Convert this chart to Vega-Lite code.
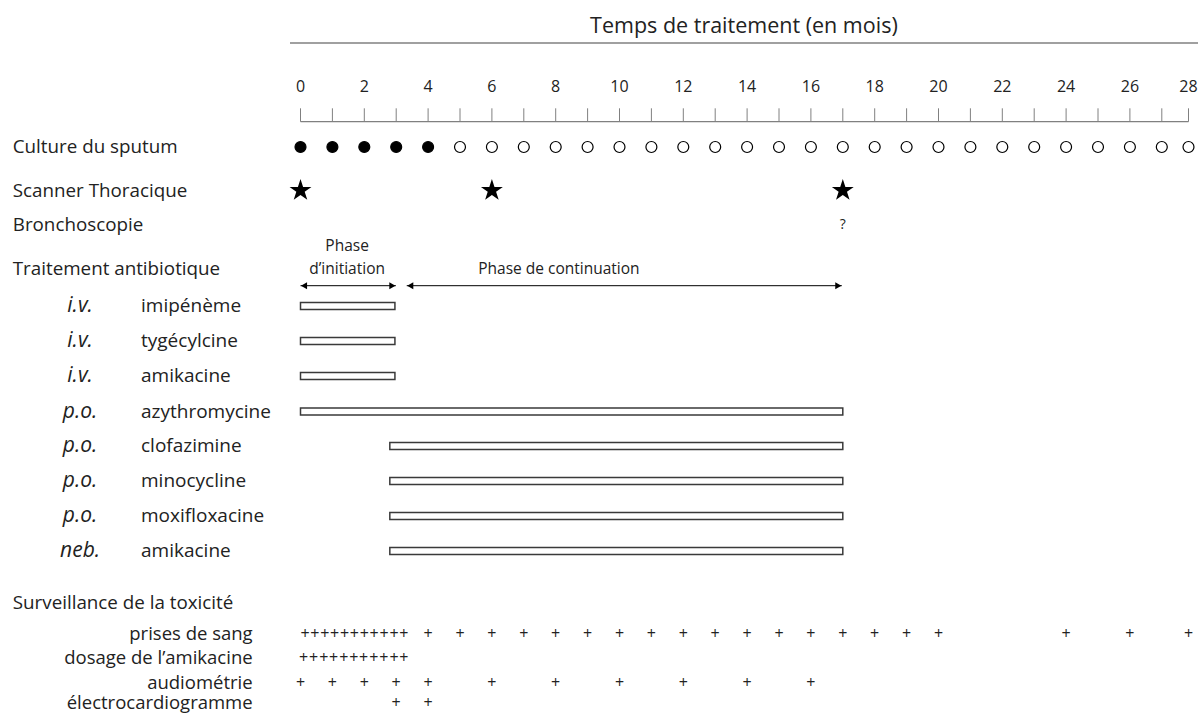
{
  "$schema": "https://vega.github.io/schema/vega-lite/v6.json",
  "width": 1198,
  "height": 719,
  "autosize": {"type": "none"},
  "padding": 0,
  "background": "#ffffff",
  "config": {"view": {"stroke": null}, "font": "Open Sans"},
  "datasets": {
    "titre": [{"texte": "Temps de traitement (en mois)"}],
    "graduations": [
      {"mois": 0}, {"mois": 1}, {"mois": 2}, {"mois": 3}, {"mois": 4}, {"mois": 5}, {"mois": 6}, {"mois": 7},
      {"mois": 8}, {"mois": 9}, {"mois": 10}, {"mois": 11}, {"mois": 12}, {"mois": 13}, {"mois": 14},
      {"mois": 15}, {"mois": 16}, {"mois": 17}, {"mois": 18}, {"mois": 19}, {"mois": 20}, {"mois": 21},
      {"mois": 22}, {"mois": 23}, {"mois": 24}, {"mois": 25}, {"mois": 26}, {"mois": 27}, {"mois": 28}
    ],
    "culture": [
      {"mois": 0, "resultat": "positive"}, {"mois": 1, "resultat": "positive"}, {"mois": 2, "resultat": "positive"},
      {"mois": 3, "resultat": "positive"}, {"mois": 4, "resultat": "positive"}, {"mois": 5, "resultat": "négative"},
      {"mois": 6, "resultat": "négative"}, {"mois": 7, "resultat": "négative"}, {"mois": 8, "resultat": "négative"},
      {"mois": 9, "resultat": "négative"}, {"mois": 10, "resultat": "négative"}, {"mois": 11, "resultat": "négative"},
      {"mois": 12, "resultat": "négative"}, {"mois": 13, "resultat": "négative"}, {"mois": 14, "resultat": "négative"},
      {"mois": 15, "resultat": "négative"}, {"mois": 16, "resultat": "négative"}, {"mois": 17, "resultat": "négative"},
      {"mois": 18, "resultat": "négative"}, {"mois": 19, "resultat": "négative"}, {"mois": 20, "resultat": "négative"},
      {"mois": 21, "resultat": "négative"}, {"mois": 22, "resultat": "négative"}, {"mois": 23, "resultat": "négative"},
      {"mois": 24, "resultat": "négative"}, {"mois": 25, "resultat": "négative"}, {"mois": 26, "resultat": "négative"},
      {"mois": 27, "resultat": "négative"}, {"mois": 28, "resultat": "négative"}
    ],
    "scanner": [{"mois": 0}, {"mois": 6}, {"mois": 17}],
    "bronchoscopie": [{"mois": 17, "note": "?"}],
    "phases_texte": [
      {"texte": "Phase", "mois": 1.46, "ligne": 8},
      {"texte": "d’initiation", "mois": 1.46, "ligne": 9},
      {"texte": "Phase de continuation", "mois": 8.1, "ligne": 9}
    ],
    "phases": [
      {"phase": "initiation", "debut": 0, "fin": 2.99},
      {"phase": "continuation", "debut": 3.33, "fin": 16.97}
    ],
    "traitements": [
      {"voie": "i.v.", "medicament": "imipénème", "debut": 0, "fin": 2.96, "ligne": 11},
      {"voie": "i.v.", "medicament": "tygécylcine", "debut": 0, "fin": 2.96, "ligne": 12},
      {"voie": "i.v.", "medicament": "amikacine", "debut": 0, "fin": 2.96, "ligne": 13},
      {"voie": "p.o.", "medicament": "azythromycine", "debut": 0, "fin": 17, "ligne": 14},
      {"voie": "p.o.", "medicament": "clofazimine", "debut": 2.8, "fin": 17, "ligne": 15},
      {"voie": "p.o.", "medicament": "minocycline", "debut": 2.8, "fin": 17, "ligne": 16},
      {"voie": "p.o.", "medicament": "moxifloxacine", "debut": 2.8, "fin": 17, "ligne": 17},
      {"voie": "neb.", "medicament": "amikacine", "debut": 2.8, "fin": 17, "ligne": 18}
    ],
    "rubriques": [
      {"libelle": "Culture du sputum", "ligne": 5},
      {"libelle": "Scanner Thoracique", "ligne": 6},
      {"libelle": "Bronchoscopie", "ligne": 7},
      {"libelle": "Traitement antibiotique", "ligne": 9},
      {"libelle": "Surveillance de la toxicité", "ligne": 19}
    ],
    "examens": [
      {"examen": "prises de sang", "ligne": 20},
      {"examen": "dosage de l’amikacine", "ligne": 21},
      {"examen": "audiométrie", "ligne": 22},
      {"examen": "électrocardiogramme", "ligne": 23}
    ],
    "surveillance": [
      {"examen": "prises de sang", "mois": 0.14, "ligne": 20}, {"examen": "prises de sang", "mois": 0.45, "ligne": 20},
      {"examen": "prises de sang", "mois": 0.76, "ligne": 20}, {"examen": "prises de sang", "mois": 1.07, "ligne": 20},
      {"examen": "prises de sang", "mois": 1.38, "ligne": 20}, {"examen": "prises de sang", "mois": 1.69, "ligne": 20},
      {"examen": "prises de sang", "mois": 2.0, "ligne": 20}, {"examen": "prises de sang", "mois": 2.31, "ligne": 20},
      {"examen": "prises de sang", "mois": 2.62, "ligne": 20}, {"examen": "prises de sang", "mois": 2.93, "ligne": 20},
      {"examen": "prises de sang", "mois": 3.24, "ligne": 20},
      {"examen": "prises de sang", "mois": 4, "ligne": 20}, {"examen": "prises de sang", "mois": 5, "ligne": 20},
      {"examen": "prises de sang", "mois": 6, "ligne": 20}, {"examen": "prises de sang", "mois": 7, "ligne": 20},
      {"examen": "prises de sang", "mois": 8, "ligne": 20}, {"examen": "prises de sang", "mois": 9, "ligne": 20},
      {"examen": "prises de sang", "mois": 10, "ligne": 20}, {"examen": "prises de sang", "mois": 11, "ligne": 20},
      {"examen": "prises de sang", "mois": 12, "ligne": 20}, {"examen": "prises de sang", "mois": 13, "ligne": 20},
      {"examen": "prises de sang", "mois": 14, "ligne": 20}, {"examen": "prises de sang", "mois": 15, "ligne": 20},
      {"examen": "prises de sang", "mois": 16, "ligne": 20}, {"examen": "prises de sang", "mois": 17, "ligne": 20},
      {"examen": "prises de sang", "mois": 18, "ligne": 20}, {"examen": "prises de sang", "mois": 19, "ligne": 20},
      {"examen": "prises de sang", "mois": 20, "ligne": 20}, {"examen": "prises de sang", "mois": 24, "ligne": 20},
      {"examen": "prises de sang", "mois": 26, "ligne": 20}, {"examen": "prises de sang", "mois": 28, "ligne": 20},
      {"examen": "dosage de l’amikacine", "mois": 0.1, "ligne": 21}, {"examen": "dosage de l’amikacine", "mois": 0.41, "ligne": 21},
      {"examen": "dosage de l’amikacine", "mois": 0.73, "ligne": 21}, {"examen": "dosage de l’amikacine", "mois": 1.04, "ligne": 21},
      {"examen": "dosage de l’amikacine", "mois": 1.36, "ligne": 21}, {"examen": "dosage de l’amikacine", "mois": 1.67, "ligne": 21},
      {"examen": "dosage de l’amikacine", "mois": 1.98, "ligne": 21}, {"examen": "dosage de l’amikacine", "mois": 2.3, "ligne": 21},
      {"examen": "dosage de l’amikacine", "mois": 2.61, "ligne": 21}, {"examen": "dosage de l’amikacine", "mois": 2.93, "ligne": 21},
      {"examen": "dosage de l’amikacine", "mois": 3.24, "ligne": 21},
      {"examen": "audiométrie", "mois": 0, "ligne": 22}, {"examen": "audiométrie", "mois": 1, "ligne": 22},
      {"examen": "audiométrie", "mois": 2, "ligne": 22}, {"examen": "audiométrie", "mois": 3, "ligne": 22},
      {"examen": "audiométrie", "mois": 4, "ligne": 22}, {"examen": "audiométrie", "mois": 6, "ligne": 22},
      {"examen": "audiométrie", "mois": 8, "ligne": 22}, {"examen": "audiométrie", "mois": 10, "ligne": 22},
      {"examen": "audiométrie", "mois": 12, "ligne": 22}, {"examen": "audiométrie", "mois": 14, "ligne": 22},
      {"examen": "audiométrie", "mois": 16, "ligne": 22},
      {"examen": "électrocardiogramme", "mois": 3, "ligne": 23}, {"examen": "électrocardiogramme", "mois": 4, "ligne": 23}
    ]
  },
  "layer": [
    {
      "data": {"name": "titre"},
      "mark": {"type": "text", "fontSize": 21.5, "color": "#222222", "align": "center", "baseline": "middle"},
      "encoding": {
        "x": {"datum": 13.9, "type": "quantitative", "axis": null, "scale": {"domain": [0, 27, 28], "range": [300.5, 1161.8, 1188.5], "nice": false, "zero": false}},
        "y": {"datum": 0, "type": "quantitative", "axis": null, "scale": {"domain": [0,1,2,3,4,5,6,7,8,9,10,11,12,13,14,15,16,17,18,19,20,21,22,23], "range": [24,43,87.3,108.3,121.7,147,190.5,225,245.5,269,285.7,306,341,376,411.5,446,481,516,551,603,634,658,683,707], "nice": false, "zero": false}},
        "text": {"field": "texte"}
      }
    },
    {
      "data": {"name": "titre"},
      "mark": {"type": "rule", "color": "#808080", "strokeWidth": 1.5},
      "encoding": {
        "x": {"datum": -0.33, "type": "quantitative", "axis": null},
        "x2": {"datum": 28.4},
        "y": {"datum": 1, "type": "quantitative", "axis": null}
      }
    },
    {
      "data": {"name": "graduations"},
      "transform": [{"filter": "datum.mois % 2 === 0"}],
      "mark": {"type": "text", "fontSize": 16, "color": "#222222", "align": "center", "baseline": "middle"},
      "encoding": {
        "x": {"field": "mois", "type": "quantitative", "axis": null},
        "y": {"datum": 2, "type": "quantitative", "axis": null},
        "text": {"field": "mois", "type": "quantitative"}
      }
    },
    {
      "data": {"name": "graduations"},
      "mark": {"type": "rule", "color": "#808080", "strokeWidth": 1},
      "encoding": {
        "x": {"field": "mois", "type": "quantitative", "axis": null},
        "y": {"datum": 3, "type": "quantitative", "axis": null},
        "y2": {"datum": 4}
      }
    },
    {
      "data": {"name": "titre"},
      "mark": {"type": "rule", "color": "#808080", "strokeWidth": 1.2},
      "encoding": {
        "x": {"datum": 0, "type": "quantitative", "axis": null},
        "x2": {"datum": 28},
        "y": {"datum": 4, "type": "quantitative", "axis": null}
      }
    },
    {
      "data": {"name": "culture"},
      "mark": {"type": "point", "shape": "circle", "size": 120, "stroke": "#000000", "strokeWidth": 1.2, "opacity": 1, "filled": false},
      "encoding": {
        "x": {"field": "mois", "type": "quantitative", "axis": null},
        "y": {"datum": 5, "type": "quantitative", "axis": null},
        "fill": {"field": "resultat", "type": "nominal", "scale": {"domain": ["positive", "négative"], "range": ["#000000", "#ffffff"]}, "legend": null}
      }
    },
    {
      "data": {"name": "scanner"},
      "mark": {"type": "point", "shape": "M0,-1L0.2245,-0.309L0.951,-0.309L0.363,0.118L0.588,0.809L0,0.382L-0.588,0.809L-0.363,0.118L-0.951,-0.309L-0.2245,-0.309Z", "size": 530, "filled": true, "color": "#000000", "opacity": 1},
      "encoding": {
        "x": {"field": "mois", "type": "quantitative", "axis": null},
        "y": {"datum": 6, "type": "quantitative", "axis": null}
      }
    },
    {
      "data": {"name": "bronchoscopie"},
      "mark": {"type": "text", "fontSize": 14, "color": "#222222", "align": "center", "baseline": "middle"},
      "encoding": {
        "x": {"field": "mois", "type": "quantitative", "axis": null},
        "y": {"datum": 7, "type": "quantitative", "axis": null},
        "text": {"field": "note"}
      }
    },
    {
      "data": {"name": "phases_texte"},
      "mark": {"type": "text", "fontSize": 15.5, "color": "#222222", "align": "center", "baseline": "middle"},
      "encoding": {
        "x": {"field": "mois", "type": "quantitative", "axis": null},
        "y": {"field": "ligne", "type": "quantitative", "axis": null},
        "text": {"field": "texte"}
      }
    },
    {
      "data": {"name": "phases"},
      "mark": {"type": "rule", "color": "#000000", "strokeWidth": 1},
      "encoding": {
        "x": {"field": "debut", "type": "quantitative", "axis": null},
        "x2": {"field": "fin"},
        "y": {"datum": 10, "type": "quantitative", "axis": null}
      }
    },
    {
      "data": {"name": "phases"},
      "mark": {"type": "point", "shape": "triangle-left", "size": 50, "filled": true, "color": "#000000", "opacity": 1, "xOffset": 3.5},
      "encoding": {
        "x": {"field": "debut", "type": "quantitative", "axis": null},
        "y": {"datum": 10, "type": "quantitative", "axis": null}
      }
    },
    {
      "data": {"name": "phases"},
      "mark": {"type": "point", "shape": "triangle-right", "size": 50, "filled": true, "color": "#000000", "opacity": 1, "xOffset": -3.5},
      "encoding": {
        "x": {"field": "fin", "type": "quantitative", "axis": null},
        "y": {"datum": 10, "type": "quantitative", "axis": null}
      }
    },
    {
      "data": {"name": "traitements"},
      "mark": {"type": "bar", "orient": "horizontal", "size": 7, "fill": "#ffffff", "stroke": "#3a3a3a", "strokeWidth": 1.5},
      "encoding": {
        "x": {"field": "debut", "type": "quantitative", "axis": null},
        "x2": {"field": "fin"},
        "y": {"field": "ligne", "type": "quantitative", "axis": null}
      }
    },
    {
      "data": {"name": "traitements"},
      "mark": {"type": "text", "fontSize": 21, "fontStyle": "italic", "color": "#222222", "align": "center", "baseline": "middle"},
      "encoding": {
        "x": {"datum": -6.91, "type": "quantitative", "axis": null},
        "y": {"field": "ligne", "type": "quantitative", "axis": null},
        "text": {"field": "voie"}
      }
    },
    {
      "data": {"name": "traitements"},
      "mark": {"type": "text", "fontSize": 19, "color": "#222222", "align": "left", "baseline": "middle"},
      "encoding": {
        "x": {"datum": -5.0, "type": "quantitative", "axis": null},
        "y": {"field": "ligne", "type": "quantitative", "axis": null},
        "text": {"field": "medicament"}
      }
    },
    {
      "data": {"name": "rubriques"},
      "mark": {"type": "text", "fontSize": 18.8, "color": "#222222", "align": "left", "baseline": "middle"},
      "encoding": {
        "x": {"datum": -9.02, "type": "quantitative", "axis": null},
        "y": {"field": "ligne", "type": "quantitative", "axis": null},
        "text": {"field": "libelle"}
      }
    },
    {
      "data": {"name": "examens"},
      "mark": {"type": "text", "fontSize": 18.5, "color": "#222222", "align": "right", "baseline": "middle"},
      "encoding": {
        "x": {"datum": -1.5, "type": "quantitative", "axis": null},
        "y": {"field": "ligne", "type": "quantitative", "axis": null},
        "text": {"field": "examen"}
      }
    },
    {
      "data": {"name": "surveillance"},
      "mark": {"type": "text", "fontSize": 16, "color": "#222222", "align": "center", "baseline": "middle", "text": "+"},
      "encoding": {
        "x": {"field": "mois", "type": "quantitative", "axis": null},
        "y": {"field": "ligne", "type": "quantitative", "axis": null}
      }
    }
  ]
}
